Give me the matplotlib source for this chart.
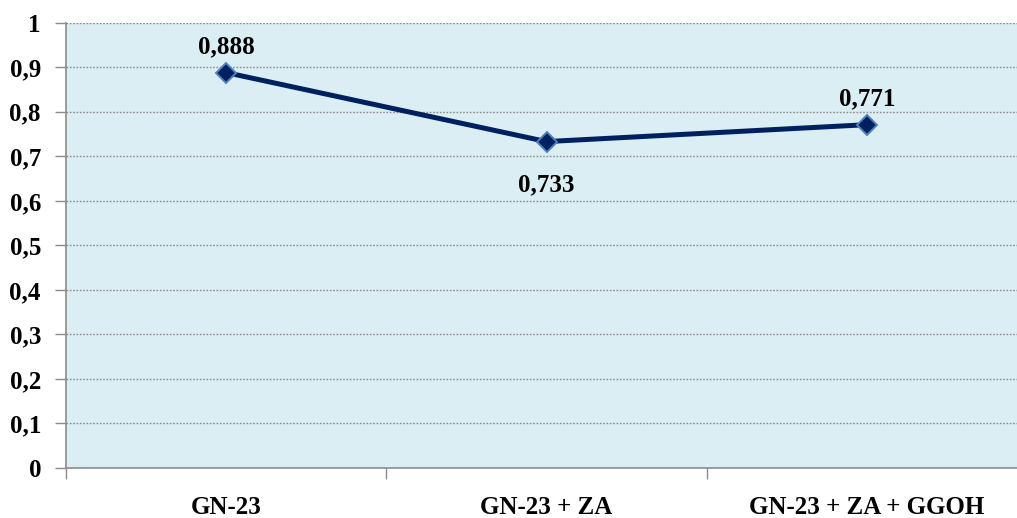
import matplotlib
matplotlib.use("Agg")
import matplotlib.pyplot as plt
from matplotlib.ticker import FuncFormatter, FixedLocator

categories = ["GN-23", "GN-23 + ZA", "GN-23 + ZA + GGOH"]
values = [0.888, 0.733, 0.771]
label_pos = ["above", "below", "above"]
yticks = [0, 0.1, 0.2, 0.3, 0.4, 0.5, 0.6, 0.7, 0.8, 0.9, 1.0]

plt.rcParams['font.family'] = ['Liberation Serif', 'DejaVu Serif']

fig = plt.figure(figsize=(10.17, 5.18), dpi=100)
ax_h = 445.3
ax = fig.add_axes([66/1017, 50/518, 961/1017, ax_h/518])
ax.set_facecolor("#DBEEF3")

x = list(range(len(categories)))
ax.plot(x, values, color="#002060", lw=3.6, marker="D", markersize=10.5,
        markerfacecolor="#002060", markeredgecolor="#4F81BD", markeredgewidth=1.4,
        zorder=3, solid_joinstyle="miter")

for xi, v, p in zip(x, values, label_pos):
    off = 14 if p == "above" else -36
    ax.annotate(f"{v:.3f}".replace(".", ","), (xi, v), xytext=(0, off),
                textcoords="offset points", ha="center", va="baseline",
                fontsize=18, fontweight="bold", color="black")

ax.set_xlim(-0.5, 2.5)
ax.set_ylim(0, 1)
ax.yaxis.set_major_locator(FixedLocator(yticks))
ax.yaxis.set_major_formatter(FuncFormatter(lambda v, p: ("%g" % round(v, 1)).replace(".", ",")))
ax.grid(axis="y", linestyle=(0, (1.2, 1.2)), color="#8C8C8C", lw=1.0)
ax.set_axisbelow(True)

ax.set_xticks([-0.5, 0.5, 1.5, 2.5])
ax.set_xticklabels([])
for xi, c in zip(x, categories):
    ax.text(xi, -46/ax_h, c, transform=ax.get_xaxis_transform(), ha="center",
            va="baseline", fontsize=18, fontweight="bold", color="black")
ax.tick_params(axis="x", which="major", length=8, color="#8C8C8C", width=1)
ax.tick_params(axis="y", length=8, color="#8C8C8C", width=1, labelsize=18, pad=10)
for lbl in ax.get_yticklabels():
    lbl.set_fontweight("bold")

for s in ["top", "right"]:
    ax.spines[s].set_visible(False)
for s in ["left", "bottom"]:
    ax.spines[s].set_color("#8C8C8C")
    ax.spines[s].set_linewidth(1.2)

fig.savefig("out.png", dpi=100, facecolor="white")
